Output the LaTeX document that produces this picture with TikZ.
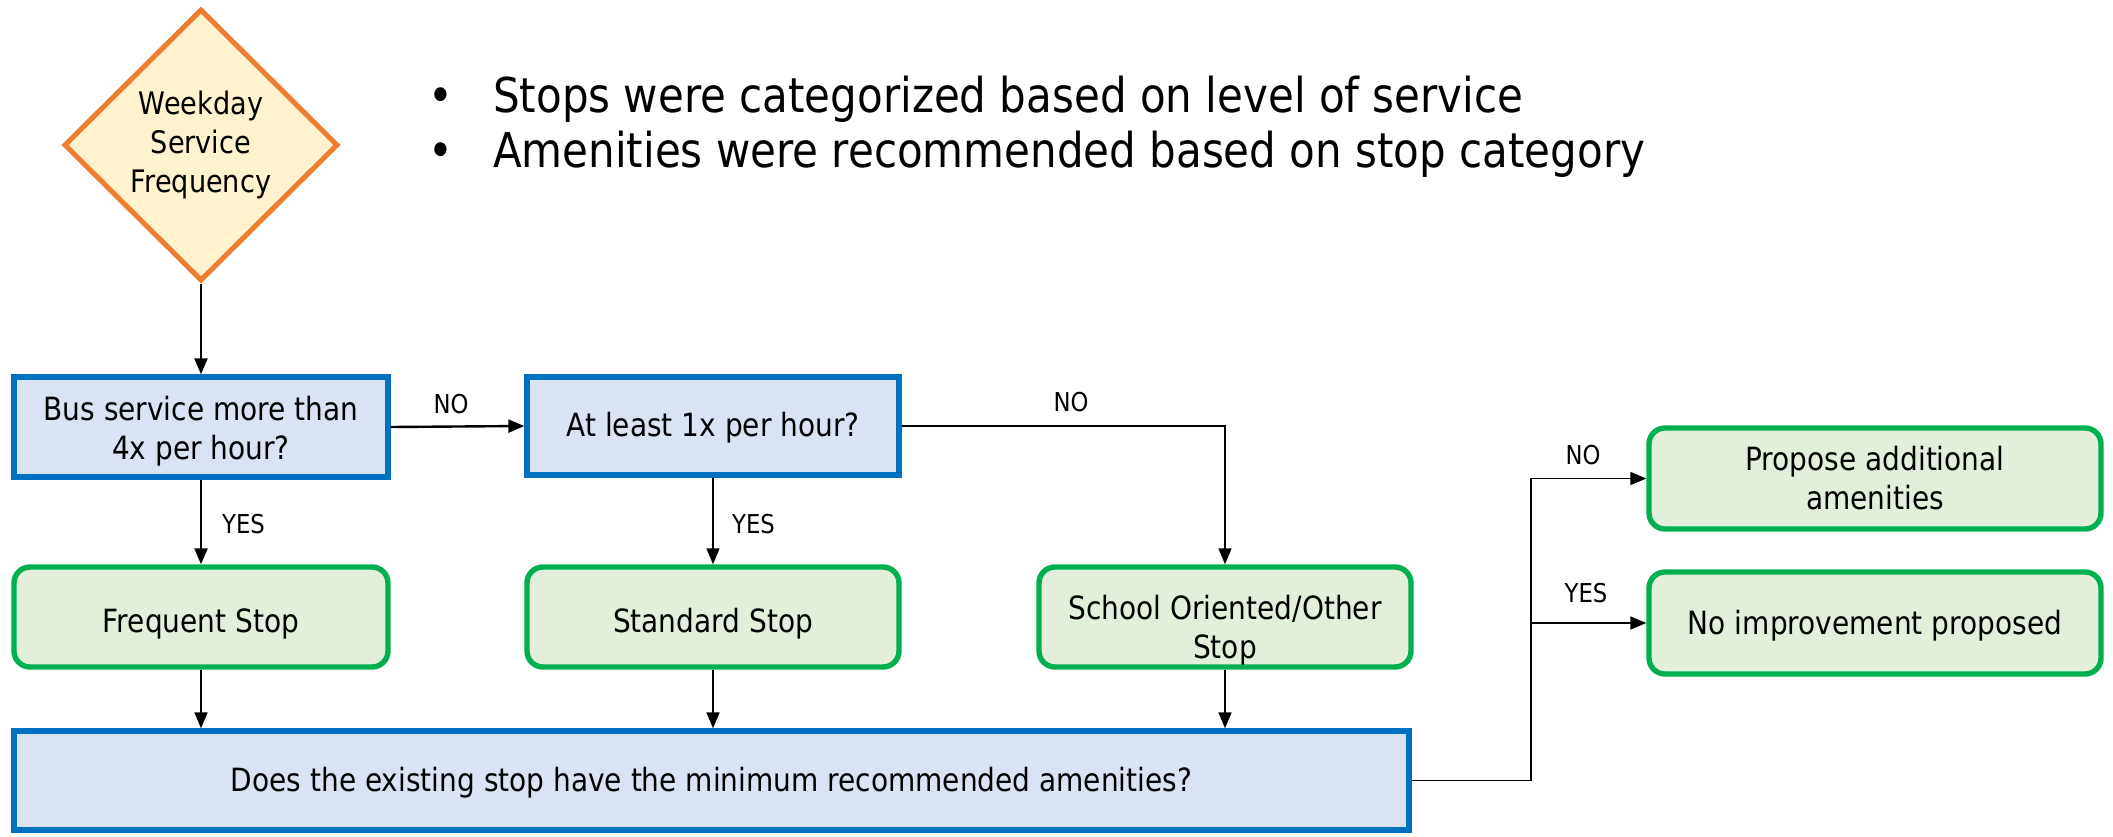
\documentclass[tikz,border=0pt]{standalone}
\usepackage{fontspec}
\setmainfont{DejaVu Sans}[FakeStretch=0.875]
\usetikzlibrary{shapes.geometric,arrows.meta,calc}
\definecolor{bluebd}{HTML}{0070C0}
\definecolor{bluefill}{HTML}{DAE3F3}
\definecolor{greenbd}{HTML}{00B050}
\definecolor{greenfill}{HTML}{E2EFDA}
\definecolor{orangebd}{HTML}{ED7D31}
\definecolor{orangefill}{HTML}{FFF2CC}
\newcommand{\lowertext}[2]{\raisebox{-#1}[\height][\depth]{\begin{tabular}{@{}c@{}}#2\end{tabular}}}
\tikzset{
  decision/.style={diamond, draw=orangebd, fill=orangefill, line width=5pt, inner sep=0pt,
    minimum width=274pt, minimum height=272pt, align=center, font=\fontsize{31}{39}\selectfont},
  procbox/.style={rectangle, draw=bluebd, fill=bluefill, line width=5.4pt, align=center,
    font=\fontsize{32}{39}\selectfont, inner sep=0pt},
  stopbox/.style={rectangle, rounded corners=16pt, draw=greenbd, fill=greenfill, line width=5.4pt,
    align=center, font=\fontsize{32}{39}\selectfont, inner sep=0pt},
  lbl/.style={font=\fontsize{26}{30}\selectfont, inner sep=0pt},
  conn/.style={line width=2.4pt, -{Triangle[length=16pt,width=13pt]}},
  thinconn/.style={line width=1.7pt, -{Triangle[length=16pt,width=13pt]}},
  bullettext/.style={font=\fontsize{48}{55}\selectfont, inner sep=0pt, anchor=base west},
}
\begin{document}
\begin{tikzpicture}[x=1pt,y=-1pt]
\useasboundingbox (0,0) rectangle (2113,836);
% nodes
\node[decision] (dia) at (201,145) {Weekday\\Service\\Frequency};
\node[procbox, minimum width=374pt, minimum height=100pt] (b1) at (201,427) {\lowertext{5pt}{Bus service more than\\4x per hour?}};
\node[procbox, minimum width=372pt, minimum height=98pt] (b2) at (713,426) {\lowertext{3pt}{At least 1x per hour?}};
\node[stopbox, minimum width=374pt, minimum height=100pt] (g1) at (201,617) {\lowertext{8pt}{Frequent Stop}};
\node[stopbox, minimum width=372pt, minimum height=100pt] (g2) at (713,617) {\lowertext{8pt}{Standard Stop}};
\node[stopbox, minimum width=372pt, minimum height=100pt] (g3) at (1225,617) {\lowertext{14pt}{School Oriented/Other\\Stop}};
\node[procbox, minimum width=1395pt, minimum height=99pt] (bot) at (711.5,780.5) {\lowertext{3pt}{Does the existing stop have the minimum recommended amenities?}};
\node[stopbox, minimum width=452pt, minimum height=101pt] (p1) at (1875,478.5) {Propose additional\\amenities};
\node[stopbox, minimum width=452pt, minimum height=102pt] (p2) at (1875,623) {\lowertext{4pt}{No improvement proposed}};
% bullets
\node[bullettext, anchor=base] (bu1) at (441,112) {•};
\node[bullettext] (t1) at (493,112) {Stops were categorized based on level of service};
\node[bullettext, anchor=base] (bu2) at (441,167) {•};
\node[bullettext] (t2) at (493,167) {Amenities were recommended based on stop category};
% connectors
\draw[conn] (dia.south) -- (b1.north);
\draw[conn] (b1.east) -- (b2.west);
\node[lbl] (no1) at (451,404) {NO};
\draw[conn] (b1.south) -- (g1.north);
\node[lbl, anchor=west] (yes1) at (222,524) {YES};
\draw[thinconn] (b2.south) -- (g2.north);
\node[lbl, anchor=west] (yes2) at (732,524) {YES};
\draw[thinconn] (b2.east) -| (g3.north);
\node[lbl] (no2) at (1071,402) {NO};
\draw[thinconn] (g1.south) -- (g1.south |- bot.north);
\draw[thinconn] (g2.south) -- (g2.south |- bot.north);
\draw[thinconn] (g3.south) -- (g3.south |- bot.north);
\coordinate (j) at (1531,780.5);
\draw[line width=1.7pt] (bot.east) -- (j);
\draw[thinconn] (j) |- (p1.west);
\draw[thinconn] (j) |- (p2.west);
\node[lbl] (no3) at (1583,455) {NO};
\node[lbl] (yes3) at (1586,593) {YES};
\end{tikzpicture}
\end{document}
